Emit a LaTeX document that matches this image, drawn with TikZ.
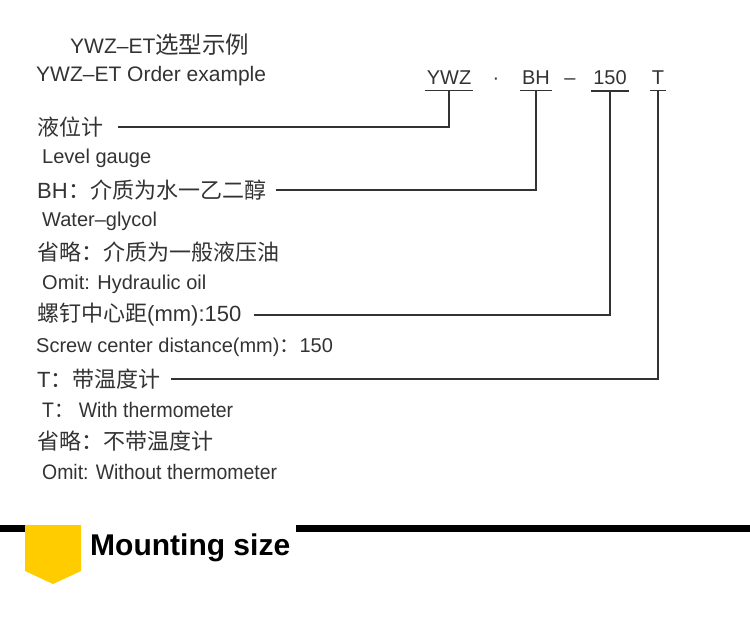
\documentclass[tikz,border=0pt]{standalone}
\usepackage{fontspec}
\setmainfont{Liberation Sans}
\newfontfamily\cjk{Noto Sans CJK SC}
\newfontfamily\lat{Liberation Sans}
\definecolor{txt}{HTML}{333333}
\definecolor{tagyellow}{HTML}{FFCC00}

\begin{document}
\begin{tikzpicture}
	[x=1pt,y=-1pt%
	,every node/.style={text=txt,%
		inner sep=0pt}%
	,title/.style={anchor=west,%
		font=\fontsize{21}{25}\selectfont}%
	,cn/.style={anchor=west,%
		font=\fontsize{22}{26}\selectfont\cjk}%
	,en/.style={anchor=west,%
		font=\fontsize{20}{24}\selectfont}%
	,narrow/.style={en,xscale=0.925,%
		font=\fontsize{21}{25}\selectfont}%
	,code/.style={anchor=base,%
		inner xsep=2pt,inner ysep=5.5pt,%
		font=\fontsize{20}{24}\selectfont}%
	,wire/.style={draw=txt,line width=1.3pt}]
	\useasboundingbox (0,0) rectangle (750,617);
	% heading
	\node[title] (head) at (70,45) {YWZ–ET{\cjk\fontsize{23.5}{26}\selectfont 选型示例}};
	\node[title] (headen) at (36,76) {YWZ–ET Order example};
	% order code
	\node[code] (ywz) at (449,85) {YWZ};
	\node[code] (dot) at (496,85) {·};
	\node[code] (bh) at (536,85) {BH};
	\node[code] (dash) at (570,85) {–};
	\node[code] (len) at (610,85) {150};
	\node[code] (tm) at (658,85) {T};
	\foreach \c in {ywz,bh,len,tm}
		\draw[wire] (\c.south west) -- (\c.south east);
	% explanations
	\node[cn] (lvl) at (37,127) {液位计};
	\node[en] (lvlen) at (42,158) {Level gauge};
	\node[cn] (wg) at (37,190) {{\lat BH}\hspace{1pt}：介质为水一乙二醇};
	\node[en] (wgen) at (42,221) {Water–glycol};
	\node[cn] (oil) at (37,252) {省略：介质为一般液压油};
	\node[en] (oilen) at (42,284) {Omit: Hydraulic oil};
	\node[cn] (scr) at (37,315) {螺钉中心距{\lat (mm):150}};
	\node[en] (scren) at (36,347) {Screw center distance(mm){\cjk ：}150};
	\node[cn] (wt) at (37,379) {{\lat T}：带温度计};
	\node[narrow] (wten) at (42,410) {T{\cjk ：} With thermometer};
	\node[cn] (nt) at (37,441) {省略：不带温度计};
	\node[narrow] (nten) at (42,472) {Omit: Without thermometer};
	% connectors
	\draw[wire,shorten <=15pt] (lvl.east) -| (ywz.south);
	\draw[wire,shorten <=9pt] (wg.east) -| (bh.south);
	\draw[wire,shorten <=12pt] (scr.east) -| (len.south);
	\draw[wire,shorten <=10pt] (wt.east) -| (tm.south);
	% section banner
	\fill[black] (0,525) rectangle (25,532);
	\fill[black] (296,525) rectangle (750,532);
	\fill[tagyellow] (25,525) -- (81,525) -- (81,571) -- (53,584) -- (25,571) -- cycle;
	\node[anchor=west,text=black,font=\fontsize{30}{35}\selectfont\bfseries] (mount) at (90,548) {Mounting size};
\end{tikzpicture}
\end{document}
